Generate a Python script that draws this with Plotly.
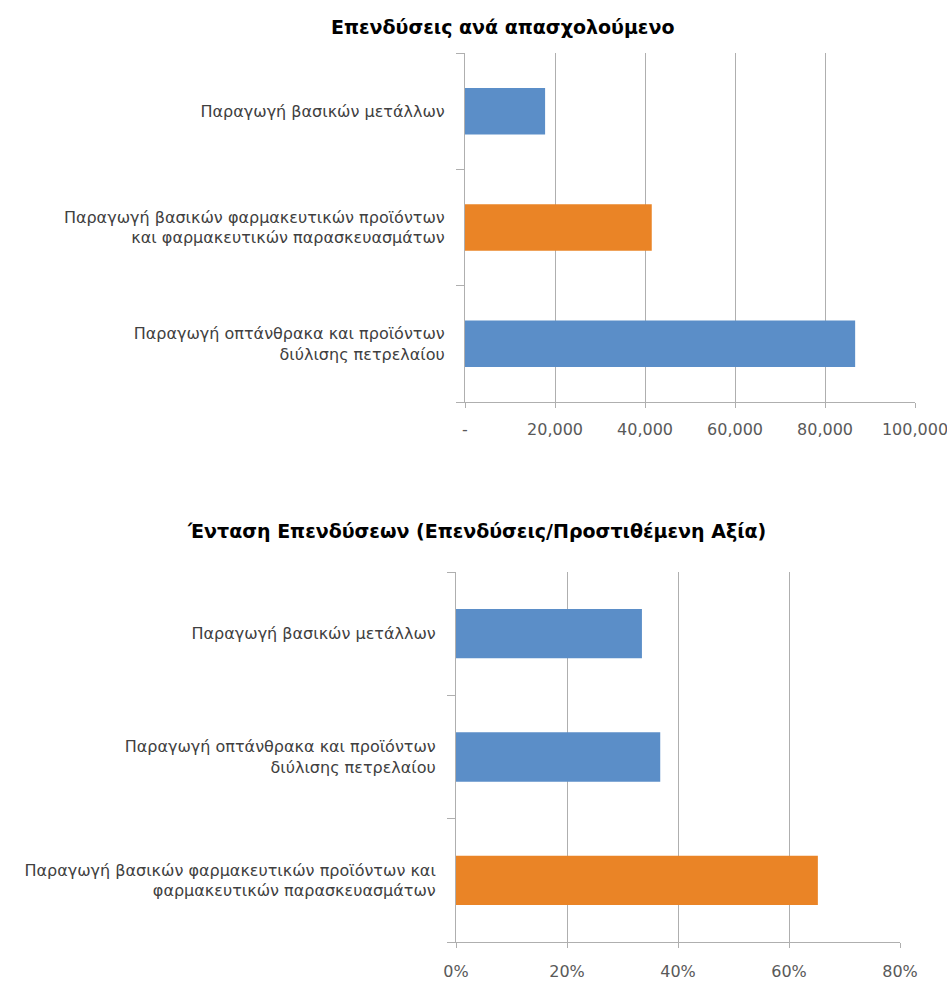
import plotly.graph_objects as go

# Investment per employee (top panel), listed top to bottom
top_categories = [
    "Παραγωγή βασικών μετάλλων",
    "Παραγωγή βασικών φαρμακευτικών προϊόντων<br>και φαρμακευτικών παρασκευασμάτων",
    "Παραγωγή οπτάνθρακα και προϊόντων<br>διύλισης πετρελαίου",
]
top_values = [17800, 41500, 86700]
top_colors = ["#5B8EC8", "#EA8426", "#5B8EC8"]
top_tickvals = [0, 20000, 40000, 60000, 80000, 100000]
top_ticktext = ["-", "20,000", "40,000", "60,000", "80,000", "100,000"]

# Investment intensity (investment / value added), listed top to bottom
bot_categories = [
    "Παραγωγή βασικών μετάλλων",
    "Παραγωγή οπτάνθρακα και προϊόντων<br>διύλισης πετρελαίου",
    "Παραγωγή βασικών φαρμακευτικών προϊόντων και<br>φαρμακευτικών παρασκευασμάτων",
]
bot_values = [0.335, 0.368, 0.652]
bot_colors = ["#5B8EC8", "#5B8EC8", "#EA8426"]
bot_tickvals = [0, 0.2, 0.4, 0.6, 0.8]
bot_ticktext = ["0%", "20%", "40%", "60%", "80%"]

W, H = 947, 981
LABEL_FONT = dict(family="DejaVu Sans, sans-serif", size=16, color="#404040")
TICK_FONT = dict(family="DejaVu Sans, sans-serif", size=16, color="#595959")
TITLE_FONT = dict(family="DejaVu Sans, sans-serif", size=19, color="#000000")
GRID = "#AFAFAF"

fig = go.Figure()

fig.add_trace(go.Bar(
    x=top_values, y=top_categories, orientation="h",
    marker=dict(color=top_colors, line=dict(width=0)),
    xaxis="x", yaxis="y", showlegend=False, hoverinfo="x+y",
))
fig.add_trace(go.Bar(
    x=bot_values, y=bot_categories, orientation="h",
    marker=dict(color=bot_colors, line=dict(width=0)),
    xaxis="x2", yaxis="y2", showlegend=False, hoverinfo="x+y",
))


def px_x(p):
    return p / W


def px_y(p):
    return 1 - p / H


xaxis_common = dict(
    showgrid=True, gridcolor=GRID, gridwidth=1,
    showline=True, linecolor=GRID, linewidth=1,
    ticks="outside", ticklen=5, tickcolor=GRID,
    tickfont=TICK_FONT, zeroline=False, fixedrange=True,
    automargin=False, ticklabeloverflow="allow",
)
yaxis_common = dict(
    type="category", showgrid=False,
    showline=True, linecolor=GRID, linewidth=1,
    ticks="outside", ticklen=8, tickcolor=GRID, tickson="boundaries",
    tickfont=LABEL_FONT, ticklabelstandoff=16, fixedrange=True, automargin=False,
)

fig.update_layout(
    width=W, height=H,
    margin=dict(l=0, r=0, t=0, b=0),
    paper_bgcolor="white", plot_bgcolor="white",
    bargap=0.6,
    xaxis=dict(
        xaxis_common,
        domain=[px_x(465), px_x(915)], range=[0, 100000],
        tickvals=top_tickvals, ticktext=top_ticktext, anchor="y",
        ticklabelstandoff=8,
    ),
    yaxis=dict(
        yaxis_common,
        domain=[px_y(402), px_y(53)], anchor="x",
        categoryorder="array", categoryarray=top_categories[::-1],
    ),
    xaxis2=dict(
        xaxis_common,
        domain=[px_x(456), px_x(900)], range=[0, 0.8],
        tickvals=bot_tickvals, ticktext=bot_ticktext, anchor="y2",
        ticklabelstandoff=10,
    ),
    yaxis2=dict(
        yaxis_common,
        domain=[px_y(942), px_y(572)], anchor="x2",
        categoryorder="array", categoryarray=bot_categories[::-1],
    ),
    annotations=[
        dict(text="<b>Επενδύσεις ανά απασχολούμενο</b>", x=px_x(502), y=px_y(27),
             xref="paper", yref="paper", xanchor="center", yanchor="middle",
             showarrow=False, font=TITLE_FONT),
        dict(text="<b>Ένταση Επενδύσεων (Επενδύσεις/Προστιθέμενη Αξία)</b>", x=px_x(476), y=px_y(531),
             xref="paper", yref="paper", xanchor="center", yanchor="middle",
             showarrow=False, font=TITLE_FONT),
    ],
)

fig.write_html("out.html")
